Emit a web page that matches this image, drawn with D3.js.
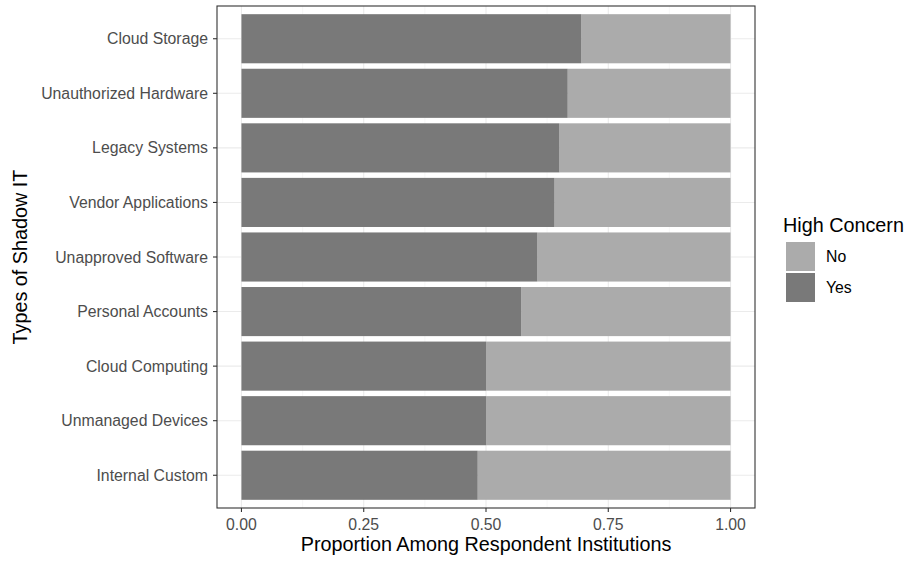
<!DOCTYPE html>
<html><head><meta charset="utf-8">
<script src="https://cdn.jsdelivr.net/npm/d3@7"></script>
<style>body{margin:0;background:#fff;font-family:"Liberation Sans",Arial,sans-serif}</style>
</head><body><svg id="c" width="909" height="561"></svg>
<script>
const categories = ["Cloud Storage","Unauthorized Hardware","Legacy Systems","Vendor Applications","Unapproved Software","Personal Accounts","Cloud Computing","Unmanaged Devices","Internal Custom"];
const yesValues = [0.695,0.667,0.65,0.64,0.605,0.572,0.5,0.5,0.483];
const seriesNames = ["No","Yes"];
const seriesColors = ["#ababab","#797979"];
const xTicks = [0,0.25,0.5,0.75,1];
const xTickLabels = ["0.00","0.25","0.50","0.75","1.00"];

const svg = d3.select("#c");
const L=217, R=755, T=6, B=508;
const x = d3.scaleLinear().domain([-0.05,1.05]).range([L,R]);
const n = categories.length;
const yc = d3.scaleLinear().domain([-0.6, n-1+0.6]).range([T,B]);
const barH = (yc(0.9)-yc(0));
const tickFont = "15.8px", titleFont = "19.8px";

svg.append("rect").attr("x",L).attr("y",T).attr("width",R-L).attr("height",B-T).attr("fill","#fff");
const minor = [0.125,0.375,0.625,0.875];
svg.selectAll(".mn").data(minor).enter().append("line")
 .attr("x1",d=>x(d)).attr("x2",d=>x(d)).attr("y1",T).attr("y2",B)
 .attr("stroke","#f2f2f2").attr("stroke-width",0.55);
svg.selectAll(".mj").data(xTicks).enter().append("line")
 .attr("x1",d=>x(d)).attr("x2",d=>x(d)).attr("y1",T).attr("y2",B)
 .attr("stroke","#ebebeb").attr("stroke-width",1.1);
svg.selectAll(".my").data(categories).enter().append("line")
 .attr("x1",L).attr("x2",R).attr("y1",(d,i)=>yc(i)).attr("y2",(d,i)=>yc(i))
 .attr("stroke","#ebebeb").attr("stroke-width",1.1);

const g = svg.append("g");
categories.forEach((c,i)=>{
  const v = yesValues[i];
  const yy = yc(i)-barH/2;
  g.append("rect").attr("x",x(v)).attr("y",yy).attr("width",x(1)-x(v)).attr("height",barH).attr("fill",seriesColors[0]);
  g.append("rect").attr("x",x(0)).attr("y",yy).attr("width",x(v)-x(0)).attr("height",barH).attr("fill",seriesColors[1]);
});

svg.append("rect").attr("x",L).attr("y",T).attr("width",R-L).attr("height",B-T)
 .attr("fill","none").attr("stroke","#333").attr("stroke-width",1.1);

const xa = svg.append("g");
xTicks.forEach((t,i)=>{
  xa.append("line").attr("x1",x(t)).attr("x2",x(t)).attr("y1",B).attr("y2",B+4).attr("stroke","#333").attr("stroke-width",1.1);
  xa.append("text").attr("x",x(t)).attr("y",530).attr("text-anchor","middle").attr("font-size",tickFont).attr("fill","#4d4d4d").text(xTickLabels[i]);
});
categories.forEach((c,i)=>{
  svg.append("line").attr("x1",L-4).attr("x2",L).attr("y1",yc(i)).attr("y2",yc(i)).attr("stroke","#333").attr("stroke-width",1.1);
  svg.append("text").attr("x",L-9).attr("y",yc(i)).attr("dy","0.35em").attr("text-anchor","end").attr("font-size",tickFont).attr("fill","#4d4d4d").text(c);
});

svg.append("text").attr("x",(L+R)/2).attr("y",551).attr("text-anchor","middle").attr("font-size",titleFont).attr("fill","#000").text("Proportion Among Respondent Institutions");
svg.append("text").attr("transform",`translate(27,${(T+B)/2}) rotate(-90)`).attr("text-anchor","middle").attr("font-size",titleFont).attr("fill","#000").text("Types of Shadow IT");

const lg = svg.append("g");
lg.append("text").attr("x",783).attr("y",232).attr("font-size",titleFont).attr("fill","#000").text("High Concern");
seriesNames.forEach((s,i)=>{
  const y0 = 242 + i*31;
  lg.append("rect").attr("x",786).attr("y",y0).attr("width",29).attr("height",29).attr("fill",seriesColors[i]);
  lg.append("text").attr("x",826).attr("y",y0+14.5).attr("dy","0.35em").attr("font-size",tickFont).attr("fill","#000").text(s);
});
</script></body></html>
